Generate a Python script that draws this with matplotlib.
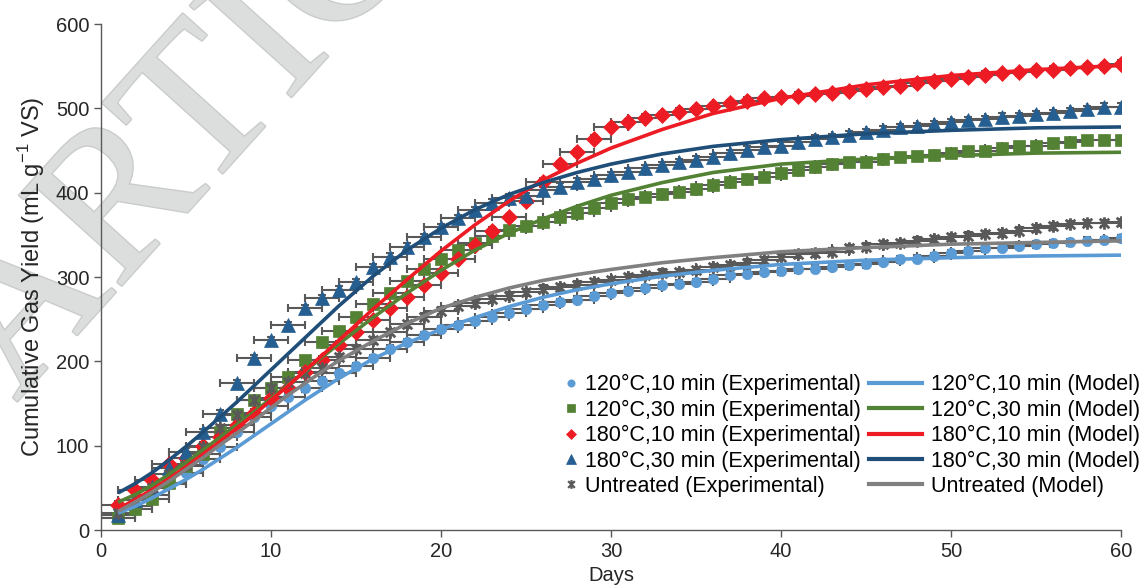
import numpy as np
import matplotlib.pyplot as plt
import matplotlib.patheffects as pe
from matplotlib.lines import Line2D
from matplotlib.path import Path

plt.rcParams['font.family'] = ['Liberation Sans', 'DejaVu Sans']
plt.rcParams['mathtext.fontset'] = 'custom'
plt.rcParams['mathtext.rm'] = 'Liberation Sans'

days = np.arange(1, 61)

# experimental data (mL/g VS), day 1..60
exp_120_10 = [18, 28, 42, 55, 68, 84, 99, 116, 134, 147, 158, 168, 177, 186, 194, 204, 215, 223, 231, 238,
              243, 248, 253, 257, 262, 267, 270, 273, 277, 281, 284, 287, 290, 292, 294, 298, 303, 304, 306, 307,
              309, 310, 312, 314, 315, 318, 321, 322, 325, 328, 331, 334, 335, 337, 339, 340, 341, 343, 344, 346]
exp_120_30 = [14, 25, 37, 56, 76, 90, 116, 138, 154, 168, 181, 202, 223, 236, 253, 268, 281, 295, 309, 322,
              332, 340, 349, 356, 360, 365, 371, 376, 382, 388, 392, 395, 398, 401, 405, 409, 413, 416, 419, 423,
              427, 430, 434, 436, 437, 440, 442, 443, 445, 447, 449, 450, 453, 455, 456, 459, 460, 462, 463, 463]
exp_180_10 = [30, 47, 59, 78, 86, 100, 110, 124, 139, 156, 168, 188, 202, 220, 235, 249, 263, 276, 290, 305,
              322, 338, 355, 371, 390, 413, 434, 448, 464, 478, 484, 489, 492, 496, 499, 503, 506, 509, 512, 513,
              515, 517, 518, 521, 523, 525, 527, 530, 532, 535, 537, 540, 542, 543, 545, 546, 548, 549, 550, 553]
exp_180_30 = [18, 36, 51, 73, 93, 116, 138, 174, 204, 225, 243, 263, 275, 285, 294, 312, 324, 336, 347, 359,
              370, 379, 388, 394, 396, 403, 407, 413, 416, 421, 425, 429, 433, 436, 439, 442, 447, 451, 454, 456,
              460, 464, 466, 469, 472, 475, 478, 479, 481, 484, 486, 487, 490, 491, 493, 494, 497, 499, 502, 502]
exp_untreated = [20, 36, 50, 67, 77, 99, 121, 136, 154, 168, 176, 186, 192, 205, 215, 225, 235, 244, 253, 260,
                 266, 269, 274, 278, 282, 286, 288, 291, 294, 296, 300, 302, 305, 306, 308, 312, 314, 317, 320, 324,
                 327, 328, 330, 334, 336, 339, 340, 343, 345, 347, 349, 351, 352, 355, 358, 360, 363, 364, 364, 365]

# model curves, read at these days
model_days = [1, 2, 3, 4, 5, 6, 7, 8, 9, 10, 11, 12, 13, 14, 16, 18, 20, 22, 24, 26, 28, 30, 33, 36, 40, 45, 50, 55, 60]
mod_120_10 = [20, 28, 38, 49, 60, 72, 85, 98, 112, 126, 140, 154, 167, 180, 203, 222, 238, 252, 265, 276, 285, 292,
              301, 308, 315, 320, 323, 325, 326]
mod_120_30 = [33, 42, 53, 66, 80, 95, 110, 125, 140, 156, 172, 188, 205, 221, 252, 281, 308, 332, 352, 369, 384, 397,
              412, 424, 434, 440, 444, 447, 448]
mod_180_10 = [25, 36, 48, 61, 75, 90, 105, 121, 137, 154, 171, 189, 207, 225, 262, 297, 331, 362, 390, 415, 435, 453,
              475, 494, 512, 528, 539, 546, 551]
mod_180_30 = [44, 55, 68, 83, 99, 116, 134, 152, 171, 190, 209, 228, 247, 266, 301, 332, 358, 380, 398, 412, 424, 434,
              446, 455, 463, 470, 474, 477, 478]
mod_untreated = [22, 33, 45, 58, 72, 86, 101, 115, 130, 145, 160, 174, 188, 201, 224, 245, 263, 276, 287, 296, 303, 309,
                 317, 323, 330, 335, 339, 341, 343]

labels = ['120°C,10 min', '120°C,30 min', '180°C,10 min', '180°C,30 min', 'Untreated']

# Excel style "star": an x with a vertical bar
star = Path([(-1, -1), (1, 1), (-1, 1), (1, -1), (0, -1.3), (0, 1.3)],
            [Path.MOVETO, Path.LINETO, Path.MOVETO, Path.LINETO, Path.MOVETO, Path.LINETO])

exp_series = [exp_120_10, exp_120_30, exp_180_10, exp_180_30, exp_untreated]
mod_series = [mod_120_10, mod_120_30, mod_180_10, mod_180_30, mod_untreated]
mcolors = ['#5b9bd5', '#548235', '#ed1c24', '#255e91', '#595959']
lcolors = ['#5b9bd5', '#548235', '#ed1c24', '#1f4e79', '#808080']
markers = ['o', 's', 'D', '^', star]
msizes = [7.5, 8.5, 8, 9.5, 9]

fig = plt.figure(figsize=(11.43, 5.88), dpi=100)

# watermark, behind the axes
fig.text(0.014, 0.315, 'ARTICLE', fontsize=150, family='Liberation Serif', color='#dcdddd',
         rotation=48, rotation_mode='anchor', ha='left', va='baseline', zorder=-1,
         path_effects=[pe.withStroke(linewidth=2, foreground='#cacbcb')])

ax = fig.add_axes([0.0884, 0.0986, 0.8924, 0.8604])
ax.patch.set_alpha(0)

for y, c, m, ms in zip(exp_series, mcolors, markers, msizes):
    ax.errorbar(days, y, xerr=1, yerr=4, fmt='none', ecolor='#595959', elinewidth=1.5,
                capsize=3, capthick=1.5, zorder=2)
    ax.plot(days, y, linestyle='none', marker=m, color=c, markersize=ms,
            markeredgewidth=2 if m is star else 0.5, zorder=3)

for y, c in zip(mod_series, lcolors):
    ax.plot(model_days, y, color=c, lw=2.6, zorder=4, solid_capstyle='butt')

ax.set_xlim(0, 60)
ax.set_ylim(0, 600)
ax.set_xticks(range(0, 61, 10))
ax.set_yticks(range(0, 601, 100))
for s in ['top', 'right']:
    ax.spines[s].set_visible(False)
for s in ['left', 'bottom']:
    ax.spines[s].set_color('#595959')
    ax.spines[s].set_linewidth(1.0)
ax.tick_params(labelsize=14.5, colors='#595959', labelcolor='#262626', length=5, width=1.0)

ax.set_xlabel('Days', fontsize=14.5, color='#262626', labelpad=4)
ax.set_ylabel('Cumulative Gas Yield (mL g$^{-1}$ VS)', fontsize=17, color='#262626', labelpad=6)

h1 = [Line2D([], [], linestyle='none', marker=m, color=c, markersize=ms * 0.7,
             markeredgewidth=1.6 if m is star else 0.5)
      for c, m, ms in zip(mcolors, markers, msizes)]
h2 = [Line2D([], [], color=c, lw=3) for c in lcolors]
leg1 = ax.legend(h1, [l + ' (Experimental)' for l in labels], loc='upper left',
                 bbox_to_anchor=(0.4525, 0.308), frameon=False, fontsize=15.5, handlelength=0.8,
                 handletextpad=0.26, labelspacing=0.2, borderaxespad=0, borderpad=0)
ax.add_artist(leg1)
ax.legend(h2, [l + ' (Model)' for l in labels], loc='upper left',
          bbox_to_anchor=(0.753, 0.308), frameon=False, fontsize=15.5, handlelength=2.45,
          handletextpad=0.42, labelspacing=0.2, borderaxespad=0, borderpad=0)

fig.savefig('out.png', dpi=100)
